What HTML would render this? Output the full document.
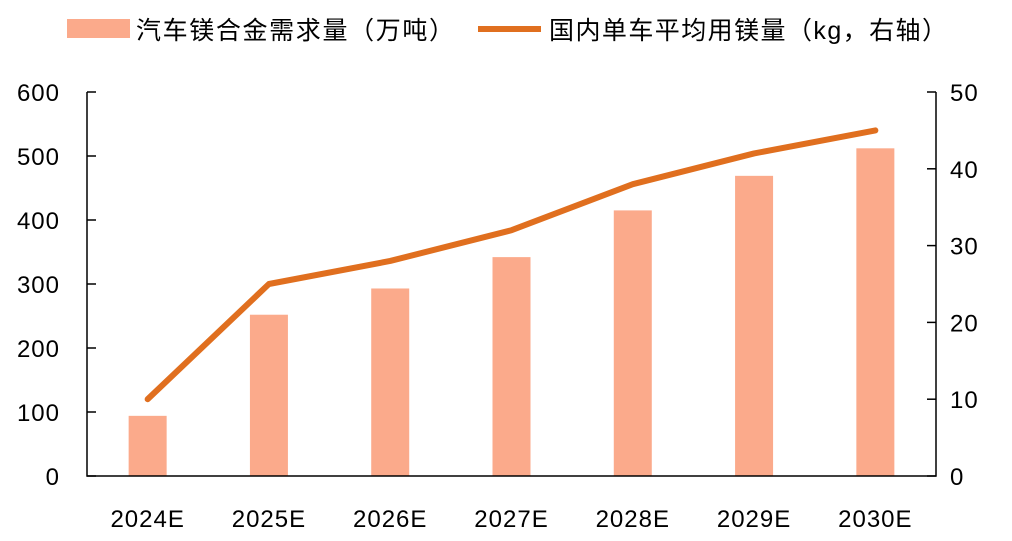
<!DOCTYPE html>
<html><head><meta charset="utf-8"><style>
body{margin:0;background:#fff;}
svg text{font-family:"Liberation Sans","Noto Sans CJK SC",sans-serif;fill:#000;}
</style></head><body>
<svg id="c" width="1012" height="536" xmlns="http://www.w3.org/2000/svg">
<g>
<rect x="67" y="19" width="63" height="19" fill="#FBAA8B"/>
<text x="136" y="39" font-size="25" textLength="318">汽车镁合金需求量（万吨）</text>
<line x1="478" y1="29" x2="541" y2="29" stroke="#E06F1F" stroke-width="6"/>
<text x="549" y="39" font-size="25" textLength="398">国内单车平均用镁量（kg，右轴）</text>
</g>
</svg>
<script>
const categories=["2024E","2025E","2026E","2027E","2028E","2029E","2030E"];
const demand=[94,252,293,342,415,469,512];
const perCar=[10,25,28,32,38,42,45];
const leftTicks=[0,100,200,300,400,500,600];
const rightTicks=[0,10,20,30,40,50];
const svg=document.getElementById('c');const NS="http://www.w3.org/2000/svg";
const X0=87,X1=936,Y0=476,Y1=92;
const step=(X1-X0)/categories.length;
const xc=i=>X0+step*(i+0.5);
const yl=v=>Y0-(v/600)*(Y0-Y1);
const yr=v=>Y0-(v/50)*(Y0-Y1);
function mk(t,a){const e=document.createElementNS(NS,t);for(const k in a)e.setAttribute(k,a[k]);svg.appendChild(e);return e;}
demand.forEach((v,i)=>{const r=mk('rect',{x:xc(i)-19,y:yl(v),width:38,height:Y0-yl(v),fill:'#FBAA8B'});

});
const ax=mk('path',{d:`M${X0} ${Y1}V${Y0}H${X1}V${Y1}`,fill:'none',stroke:'#000','stroke-width':1.5});


leftTicks.forEach(v=>{mk('line',{x1:X0,x2:X0+9,y1:yl(v),y2:yl(v),stroke:'#000','stroke-width':1.5});
const t=mk('text',{x:60,y:yl(v)+9,'font-size':24,'text-anchor':'end','letter-spacing':1});t.textContent=v;

});
rightTicks.forEach(v=>{mk('line',{x1:X1-9,x2:X1,y1:yr(v),y2:yr(v),stroke:'#000','stroke-width':1.5});
const t=mk('text',{x:950,y:yr(v)+9,'font-size':24,'letter-spacing':1});t.textContent=v;

});
categories.forEach((c,i)=>{const t=mk('text',{x:xc(i),y:527,'font-size':24,'text-anchor':'middle','letter-spacing':1});t.textContent=c;

});
const ln=mk('polyline',{points:perCar.map((v,i)=>xc(i)+','+yr(v)).join(' '),fill:'none',stroke:'#E06F1F','stroke-width':6,'stroke-linejoin':'round','stroke-linecap':'round'});


</script>
</body></html>
